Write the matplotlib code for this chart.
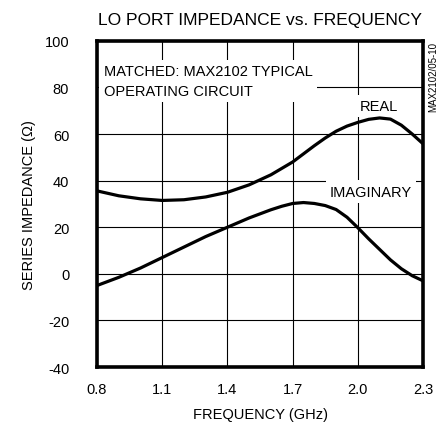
import matplotlib
matplotlib.use("Agg")
import matplotlib.pyplot as plt
from matplotlib import font_manager

# ---------------------------------------------------------------------------
# Data (frequency in GHz, impedance in ohms)
# ---------------------------------------------------------------------------
freq_real = [0.8, 0.9, 1.0, 1.1, 1.2, 1.3, 1.4, 1.5, 1.6, 1.7, 1.75, 1.8,
             1.85, 1.9, 1.95, 2.0, 2.05, 2.1, 2.15, 2.2, 2.25, 2.3]
real = [35.6, 33.5, 32.2, 31.5, 31.8, 33.0, 35.0, 38.2, 42.5, 48.0, 51.5,
        55.0, 58.3, 61.2, 63.4, 65.0, 66.3, 66.9, 66.4, 63.8, 60.0, 55.8]

freq_imag = [0.8, 0.9, 1.0, 1.1, 1.2, 1.3, 1.4, 1.5, 1.6, 1.65, 1.7, 1.75,
             1.8, 1.85, 1.9, 1.95, 2.0, 2.05, 2.1, 2.15, 2.2, 2.25, 2.3]
imag = [-5.0, -1.5, 2.5, 7.0, 11.5, 16.0, 20.0, 24.0, 27.5, 29.0, 30.2,
        30.6, 30.2, 29.3, 27.6, 24.3, 19.8, 15.0, 10.5, 6.0, 2.2, -0.8, -3.0]

x_ticks = [0.8, 1.1, 1.4, 1.7, 2.0, 2.3]
x_labels = ["0.8", "1.1", "1.4", "1.7", "2.0", "2.3"]
y_ticks = [-40, -20, 0, 20, 40, 60, 80, 100]

# ---------------------------------------------------------------------------
# Font: narrow sans if available
# ---------------------------------------------------------------------------
names = {f.name for f in font_manager.fontManager.ttflist}
family = "Liberation Sans Narrow" if "Liberation Sans Narrow" in names else "Liberation Sans"
plt.rcParams["font.family"] = [family, "DejaVu Sans"]
plt.rcParams["axes.unicode_minus"] = False

fig = plt.figure(figsize=(4.43, 4.31), dpi=100)
ax = fig.add_axes([0.219, 0.146, 0.736, 0.757])

ax.plot(freq_real, real, color="black", lw=2.3, solid_capstyle="butt", zorder=4)
ax.plot(freq_imag, imag, color="black", lw=2.3, solid_capstyle="butt", zorder=4)

ax.set_xlim(0.8, 2.3)
ax.set_ylim(-40, 100)
ax.set_xticks(x_ticks)
ax.set_xticklabels(x_labels)
ax.set_yticks(y_ticks)
ax.grid(True, color="black", lw=0.8)
ax.set_axisbelow(True)
ax.tick_params(length=0, labelsize=10.5)
ax.tick_params(axis="y", pad=20)
ax.tick_params(axis="x", pad=11)
for sp in ax.spines.values():
    sp.set_linewidth(2.6)

ax.set_xlabel("FREQUENCY (GHz)", fontsize=10.5, labelpad=8)
ax.set_ylabel("SERIES IMPEDANCE (\u03a9)", fontsize=10.5, labelpad=6,
              family=[family, "DejaVu Sans"])
ax.set_title("LO PORT IMPEDANCE vs. FREQUENCY", fontsize=12.5, pad=12)

box = dict(facecolor="white", edgecolor="none", pad=3)
ax.text(0.83, 82.8, "MATCHED: MAX2102 TYPICAL\nOPERATING CIRCUIT", fontsize=10.5,
        ha="left", va="center", linespacing=1.5, bbox=box, zorder=3)
ax.text(2.095, 72, "REAL", fontsize=10.5, ha="center", va="center",
        bbox=box, zorder=3)
ax.text(2.06, 35.3, "IMAGINARY", fontsize=10.5, ha="center", va="center",
        bbox=box, zorder=3)

fig.text(0.979, 0.902, "MAX2102/05-10", rotation=90, fontsize=7,
         ha="center", va="top")

fig.savefig("out.png", dpi=100)
